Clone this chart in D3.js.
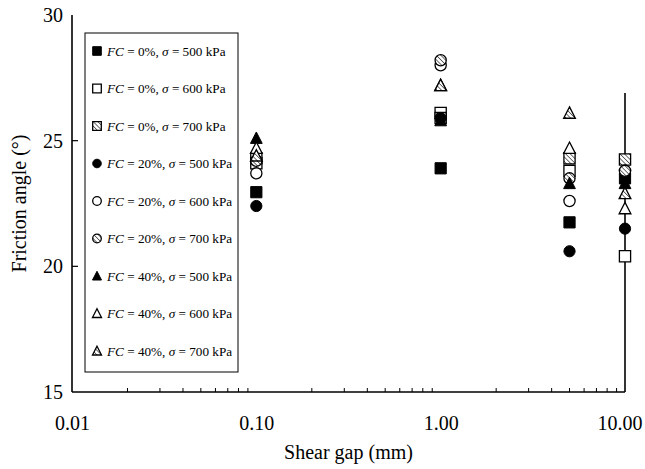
<!DOCTYPE html>
<html>
<head>
<meta charset="utf-8">
<script src="https://cdn.jsdelivr.net/npm/d3@7"></script>
<style>
  html, body { margin: 0; padding: 0; background: #fff; }
  svg { display: block; }
  text { font-family: "Liberation Serif", "Times New Roman", serif; fill: #000; }
</style>
</head>
<body>
<svg id="chart" width="645" height="469"></svg>
<script>
// Shear gap (mm) at which each test group was run
const shearGap = [0.1, 1.0, 5.0, 10.0];

// Friction angle (deg) for each fines content / normal stress combination
const fc0_500  = [22.95, 23.9, 21.75, 23.5];
const fc0_600  = [24.1, 26.1, 23.8, 20.4];
const fc0_700  = [24.3, 25.9, 24.3, 24.25];
const fc20_500 = [22.4, 25.9, 20.6, 21.5];
const fc20_600 = [23.7, 28.0, 22.6, 23.8];
const fc20_700 = [24.2, 28.2, 23.5, 23.8];
const fc40_500 = [25.1, 25.8, 23.3, 23.3];
const fc40_600 = [24.7, 27.2, 24.7, 22.3];
const fc40_700 = [24.4, 27.2, 26.1, 22.9];

const fcLevels = ["0%", "20%", "40%"];
const stressLevels = ["500", "600", "700"];

const xTickLabels = ["0.01", "0.10", "1.00", "10.00"];
const yTickValues = [15, 20, 25, 30];

const seriesValues = [fc0_500, fc0_600, fc0_700, fc20_500, fc20_600, fc20_700, fc40_500, fc40_600, fc40_700];
const shapes = ["square", "circle", "triangle"];
const fills = ["solid", "open", "hatch"];

const series = seriesValues.map((vals, i) => ({
  fc: fcLevels[Math.floor(i / 3)],
  stress: stressLevels[i % 3],
  shape: shapes[Math.floor(i / 3)],
  fill: fills[i % 3],
  values: vals
}));

const svg = d3.select("#chart");
const plotL = 72, plotR = 625, plotT = 15, plotB = 392;

const x = d3.scaleLog().domain([0.01, 10]).range([plotL, plotR]);
const y = d3.scaleLinear().domain([15, 30]).range([plotB, plotT]);

// diagonal hatch used by the third stress level
const defs = svg.append("defs");
defs.append("pattern")
  .attr("id", "hatch")
  .attr("patternUnits", "userSpaceOnUse")
  .attr("width", 3.2).attr("height", 3.2)
  .attr("patternTransform", "rotate(-45)")
  .append("line")
  .attr("x1", 0).attr("y1", 0).attr("x2", 0).attr("y2", 3.2)
  .attr("stroke", "#000").attr("stroke-width", 1.1);

function markerPath(shape, r) {
  if (shape === "square") return `M${-r},${-r}H${r}V${r}H${-r}Z`;
  if (shape === "circle") return `M${r},0A${r},${r} 0 1,1 ${-r},0A${r},${r} 0 1,1 ${r},0Z`;
  const h = r * 1.1;
  return `M0,${-h}L${r * 1.05},${h * 0.85}L${-r * 1.05},${h * 0.85}Z`;
}

function drawMarker(g, s, r) {
  const d = markerPath(s.shape, r);
  if (s.fill === "solid") {
    g.append("path").attr("d", d).attr("fill", "#000").attr("stroke", "#000").attr("stroke-width", 1);
  } else if (s.fill === "open") {
    g.append("path").attr("d", d).attr("fill", "#fff").attr("stroke", "#000").attr("stroke-width", 1.3);
  } else {
    g.append("path").attr("d", d).attr("fill", "#fff");
    g.append("path").attr("d", d).attr("fill", "url(#hatch)");
    g.append("path").attr("d", d).attr("fill", "none").attr("stroke", "#000").attr("stroke-width", 1.3);
  }
}

// frame lines: left and bottom axes, plus the vertical line at 10 mm
const axisG = svg.append("g").attr("stroke", "#000").attr("stroke-width", 1.6).attr("fill", "none");
axisG.append("line").attr("x1", plotL).attr("x2", plotL).attr("y1", plotT).attr("y2", plotB);
axisG.append("line").attr("x1", plotL).attr("x2", plotR).attr("y1", plotB).attr("y2", plotB);
axisG.append("line").attr("x1", plotR).attr("x2", plotR).attr("y1", y(26.9)).attr("y2", plotB);

// x axis: inward ticks, decade labels
const xMajor = [0.01, 0.1, 1, 10];
const xMinor = [];
[0.01, 0.1, 1].forEach(d => { for (let k = 2; k <= 9; k++) xMinor.push(d * k); });

const xAxis = d3.axisBottom(x).tickValues(xMajor).tickSize(0).tickPadding(0)
  .tickFormat((d, i) => xTickLabels[i]);
const gx = svg.append("g").attr("transform", `translate(0,${plotB})`).call(xAxis);
gx.select(".domain").remove();
gx.selectAll("text").attr("font-size", 20).attr("font-family", "Liberation Serif").attr("dy", 0).attr("y", 38);
// keep the last decade label inside the page
gx.selectAll(".tick").filter(d => d === 10).select("text")
  .attr("text-anchor", "end").attr("x", 17);

svg.append("g").selectAll("line").data(xMinor).join("line")
  .attr("x1", d => x(d)).attr("x2", d => x(d))
  .attr("y1", plotB).attr("y2", plotB - 4)
  .attr("stroke", "#000").attr("stroke-width", 1);

// y axis: inward ticks
const yAxis = d3.axisLeft(y).tickValues(yTickValues).tickSize(0).tickPadding(9).tickFormat(d3.format("d"));
const gy = svg.append("g").attr("transform", `translate(${plotL},0)`).call(yAxis);
gy.select(".domain").remove();
gy.selectAll("text").attr("font-size", 20).attr("font-family", "Liberation Serif");

svg.append("g").selectAll("line").data([20, 25]).join("line")
  .attr("x1", plotL).attr("x2", plotL + 6)
  .attr("y1", d => y(d)).attr("y2", d => y(d))
  .attr("stroke", "#000").attr("stroke-width", 1.2);

// axis titles
svg.append("text").attr("x", (plotL + plotR) / 2).attr("y", 459)
  .attr("text-anchor", "middle").attr("font-size", 20).text("Shear gap (mm)");
svg.append("text").attr("transform", `translate(26,${(plotT + plotB) / 2}) rotate(-90)`)
  .attr("text-anchor", "middle").attr("font-size", 20).text("Friction angle (°)");

// data points
const pts = svg.append("g");
series.forEach(s => {
  s.values.forEach((v, i) => {
    const g = pts.append("g").attr("transform", `translate(${x(shearGap[i])},${y(v)})`);
    drawMarker(g, s, 5.6);
  });
});

// legend
const leg = svg.append("g");
leg.append("rect").attr("x", 85).attr("y", 33).attr("width", 153).attr("height", 339)
  .attr("fill", "#fff").attr("stroke", "#000").attr("stroke-width", 1);
series.forEach((s, i) => {
  const ly = 51 + i * 37.5;
  const g = leg.append("g").attr("transform", `translate(97,${ly})`);
  drawMarker(g, s, 4.3);
  const t = leg.append("text").attr("x", 107).attr("y", ly + 4.5).attr("font-size", 13.2);
  t.append("tspan").attr("font-style", "italic").text("FC");
  t.append("tspan").text(` = ${s.fc}, `);
  t.append("tspan").attr("font-style", "italic").text("σ");
  t.append("tspan").text(` = ${s.stress} kPa`);
});
</script>
</body>
</html>
